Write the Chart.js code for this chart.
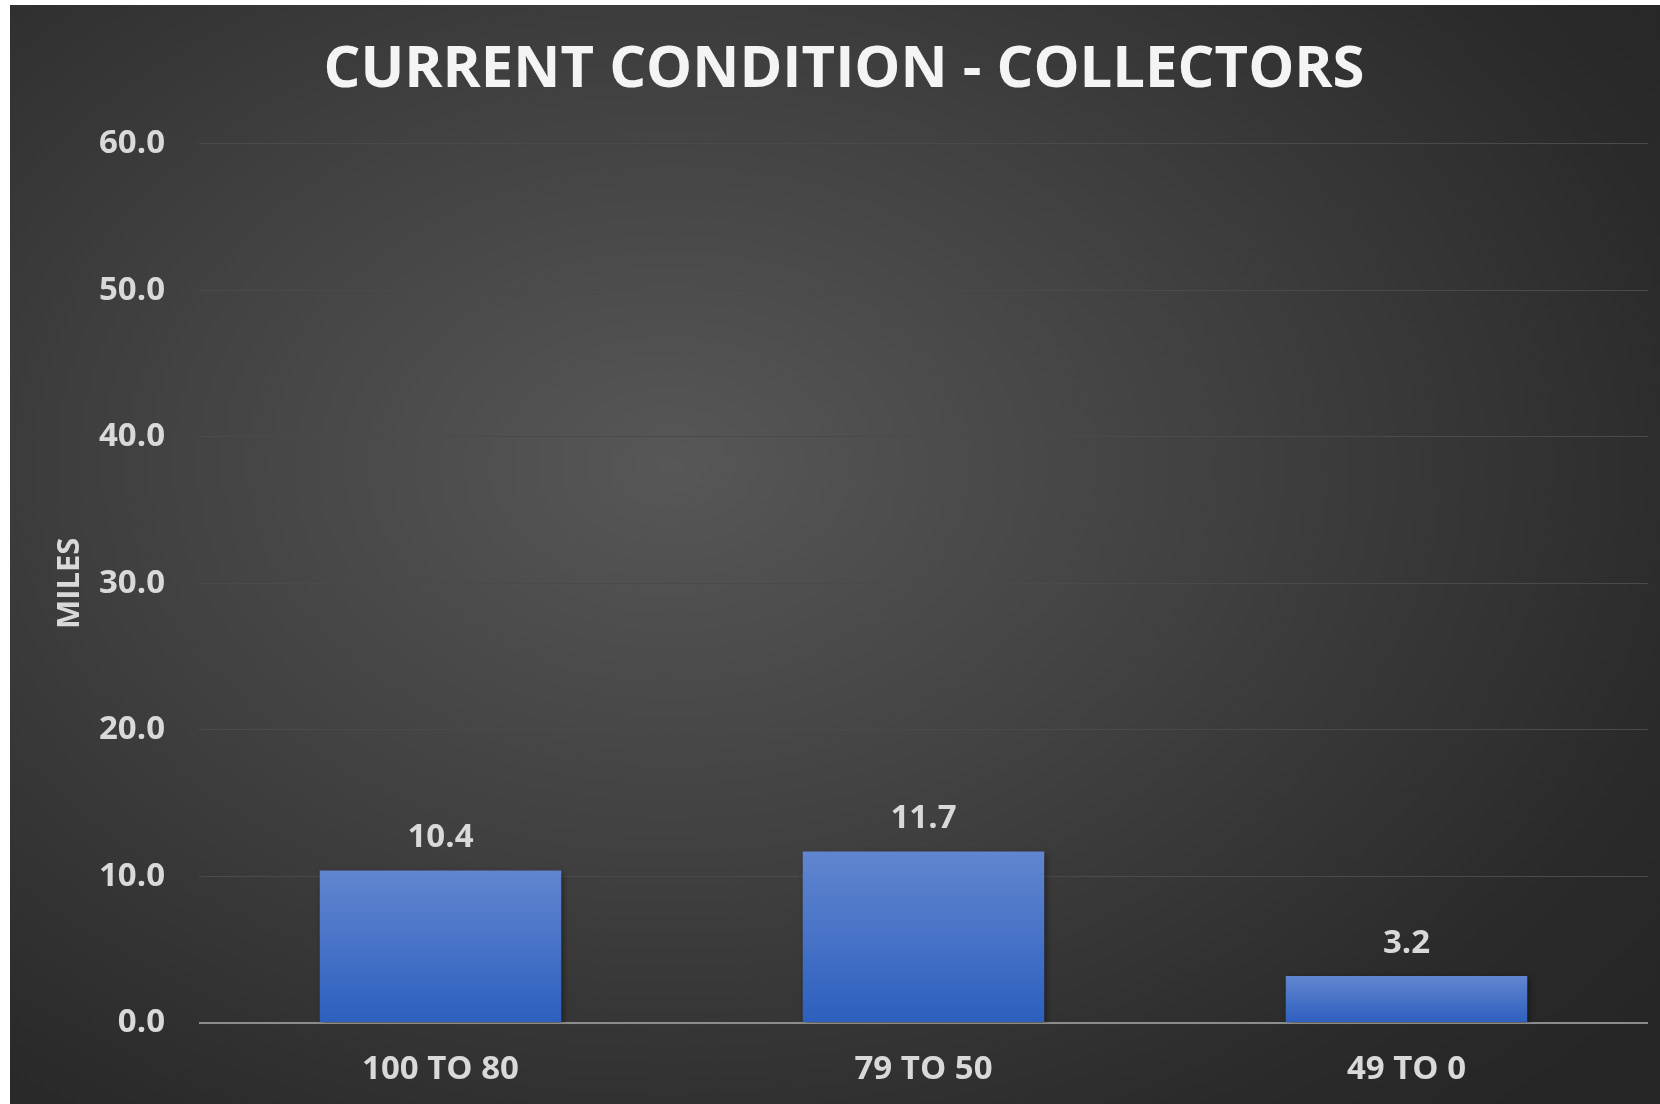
<!DOCTYPE html>
<html>
<head>
<meta charset="utf-8">
<script src="https://cdn.jsdelivr.net/npm/chart.js@4/dist/chart.umd.min.js"></script>
<style>
    html, body { margin: 0; padding: 0; background: #ffffff; }
    #panel {
        position: absolute;
        left: 10px;
        top: 5px;
        width: 1650px;
        height: 1099px;
        background: radial-gradient(ellipse 75% 80% at 40% 42%, #575757 0%, #404040 45%, #2a2a2a 85%, #262626 100%);
    }
</style>
</head>
<body>
<div id="panel"><canvas id="conditionChart"></canvas></div>
<script>
const categories = ['100 TO 80', '79 TO 50', '49 TO 0'];
const miles = [10.4, 11.7, 3.2];
const yTicks = [0, 10, 20, 30, 40, 50, 60];

const FONT = "'Open Sans', 'DejaVu Sans', sans-serif";
const LABEL_COLOR = '#d9d9d9';

// value labels above each bar
const valueLabels = {
    id: 'valueLabels',
    afterDatasetsDraw(chart) {
        const ctx = chart.ctx;
        const meta = chart.getDatasetMeta(0);
        ctx.save();
        ctx.font = `bold 33px ${FONT}`;
        ctx.fillStyle = LABEL_COLOR;
        ctx.textAlign = 'center';
        ctx.textBaseline = 'middle';
        meta.data.forEach((bar, i) => {
            ctx.fillText(miles[i].toFixed(1), bar.x, bar.y - 33);
        });
        ctx.restore();
    }
};

// soft shadow behind bars
const barShadow = {
    id: 'barShadow',
    beforeDatasetsDraw(chart) {
        const ctx = chart.ctx;
        ctx.save();
        ctx.shadowColor = 'rgba(0,0,0,0.45)';
        ctx.shadowBlur = 6;
        ctx.shadowOffsetX = 2;
        ctx.shadowOffsetY = 2;
    },
    afterDatasetsDraw(chart) {
        chart.ctx.restore();
    }
};

function barGradient(context) {
    const chart = context.chart;
    const area = chart.chartArea;
    if (!area) return '#4472c4';
    const y0 = chart.scales.y.getPixelForValue(0);
    const yTop = chart.scales.y.getPixelForValue(context.raw || 0);
    const g = chart.ctx.createLinearGradient(0, yTop, 0, y0);
    g.addColorStop(0, '#6186d0');
    g.addColorStop(1, '#2d5fbe');
    return g;
}

new Chart(document.getElementById('conditionChart'), {
    type: 'bar',
    data: {
        labels: categories,
        datasets: [{
            label: 'Miles',
            data: miles,
            backgroundColor: barGradient,
            borderWidth: 0,
            categoryPercentage: 1.0,
            barPercentage: 0.5
        }]
    },
    options: {
        responsive: true,
        maintainAspectRatio: false,
        animation: false,
        layout: { padding: { left: 30, right: 12, top: 0, bottom: 0 } },
        plugins: {
            legend: { display: false },
            tooltip: { enabled: false },
            title: {
                display: true,
                text: 'CURRENT CONDITION - COLLECTORS',
                color: '#f4f4f4',
                font: { family: FONT, size: 58, weight: 'bold' },
                padding: { top: 31, bottom: 38 }
            }
        },
        scales: {
            x: {
                grid: { display: false, drawTicks: false },
                border: { display: false },
                ticks: {
                    color: LABEL_COLOR,
                    font: { family: FONT, size: 33, weight: 'bold' },
                    padding: 27
                },
                afterFit(scale) { scale.height = 81; }
            },
            y: {
                min: 0,
                max: 60,
                afterBuildTicks(scale) {
                    scale.ticks = yTicks.map(v => ({ value: v }));
                },
                grid: {
                    drawTicks: false,
                    color: ctx => ctx.tick && ctx.tick.value === 0 ? '#8c8c8c' : '#4a4a4a',
                    lineWidth: ctx => ctx.tick && ctx.tick.value === 0 ? 2 : 1
                },
                border: { display: false },
                ticks: {
                    color: LABEL_COLOR,
                    font: { family: FONT, size: 33, weight: 'bold' },
                    padding: 34,
                    callback: v => Number(v).toFixed(1)
                },
                title: {
                    display: true,
                    text: 'MILES',
                    color: LABEL_COLOR,
                    font: { family: FONT, size: 31, weight: 'bold' },
                    padding: { top: 12, bottom: 0 }
                },
                afterFit(scale) { scale.width = 159; }
            }
        }
    },
    plugins: [barShadow, valueLabels]
});
</script>
</body>
</html>
